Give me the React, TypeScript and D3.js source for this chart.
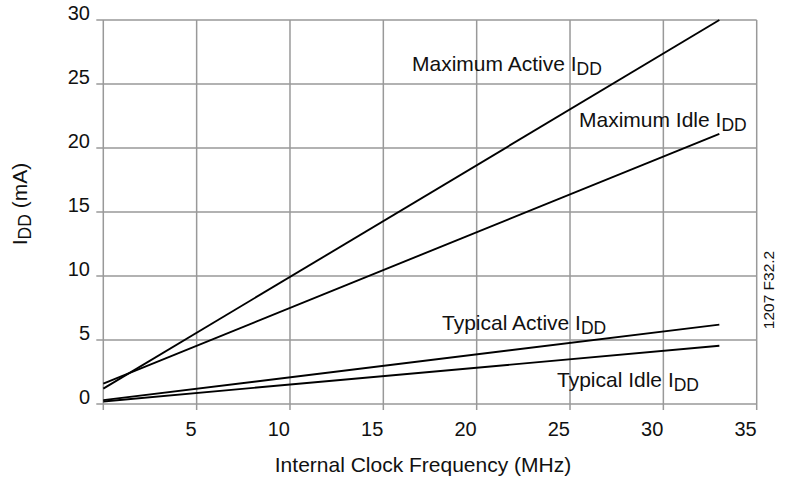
import React from "react";
import * as d3 from "d3";

const xTicks = [0, 5, 10, 15, 20, 25, 30, 35];
const yTicks = [0, 5, 10, 15, 20, 25, 30];
const xLabels = ["", "5", "10", "15", "20", "25", "30", "35"];

const freq = [0, 33];
const maxActive = [1.2, 30];
const maxIdle = [1.6, 21.1];
const typActive = [0.3, 6.2];
const typIdle = [0.2, 4.55];

const seriesNames = ["Maximum Active I", "Maximum Idle I", "Typical Active I", "Typical Idle I"];
const seriesValues = [maxActive, maxIdle, typActive, typIdle];

const W = 786;
const H = 478;
const m = { left: 103.3, right: 756.7, top: 20, bottom: 404 };
const FONT = "'Liberation Sans', Arial, Helvetica, sans-serif";

export default function App() {
  const x = d3.scaleLinear().domain([0, 35]).range([m.left, m.right]);
  const y = d3.scaleLinear().domain([0, 30]).range([m.bottom, m.top]);
  const line = d3
    .line<[number, number]>()
    .x((d) => x(d[0]))
    .y((d) => y(d[1]));

  const labelPos = [
    { x: 412, y: 71 },
    { x: 579, y: 127 },
    { x: 442, y: 330 },
    { x: 557, y: 387 },
  ];

  return (
    <svg width={W} height={H} style={{ position: "absolute", left: 0, top: 0, background: "#fff" }} fontFamily={FONT}>
      <rect x={0} y={0} width={W} height={H} fill="#fff" />
      {yTicks.map((t) => (
        <line key={"h" + t} x1={m.left - 7} x2={m.right} y1={y(t)} y2={y(t)} stroke="#999" strokeWidth={1.5} />
      ))}
      {xTicks.map((t) => (
        <line key={"v" + t} x1={x(t)} x2={x(t)} y1={m.top} y2={m.bottom + 6} stroke="#999" strokeWidth={1.5} />
      ))}
      {yTicks.map((t) => (
        <text key={"yl" + t} x={90} y={y(t)} textAnchor="end" fontSize={20} fill="#111">
          {t}
        </text>
      ))}
      {xTicks.map((t, i) => (
        <text key={"xl" + t} x={x(t)} y={436} textAnchor="end" fontSize={20} fill="#111">
          {xLabels[i]}
        </text>
      ))}
      {seriesValues.map((vals, i) => (
        <path
          key={"s" + i}
          d={line(freq.map((f, j) => [f, vals[j]] as [number, number])) || ""}
          fill="none"
          stroke="#000"
          strokeWidth={1.9}
        />
      ))}
      {seriesNames.map((n, i) => (
        <text key={"lab" + i} x={labelPos[i].x} y={labelPos[i].y} fontSize={21} fill="#111">
          {n}
          <tspan fontSize={17.5} dy={4}>DD</tspan>
        </text>
      ))}
      <text x={(m.left + m.right) / 2 - 7} y={472} textAnchor="middle" fontSize={21} fill="#111">
        Internal Clock Frequency (MHz)
      </text>
      <text transform={`translate(27,204) rotate(-90)`} textAnchor="middle" fontSize={21} fill="#111">
        I<tspan fontSize={17.5} dy={4}>DD</tspan>
        <tspan dy={-4}> (mA)</tspan>
      </text>
      <text transform={`translate(774,290) rotate(-90)`} textAnchor="middle" fontSize={15.5} fill="#111">
        1207 F32.2
      </text>
    </svg>
  );
}
